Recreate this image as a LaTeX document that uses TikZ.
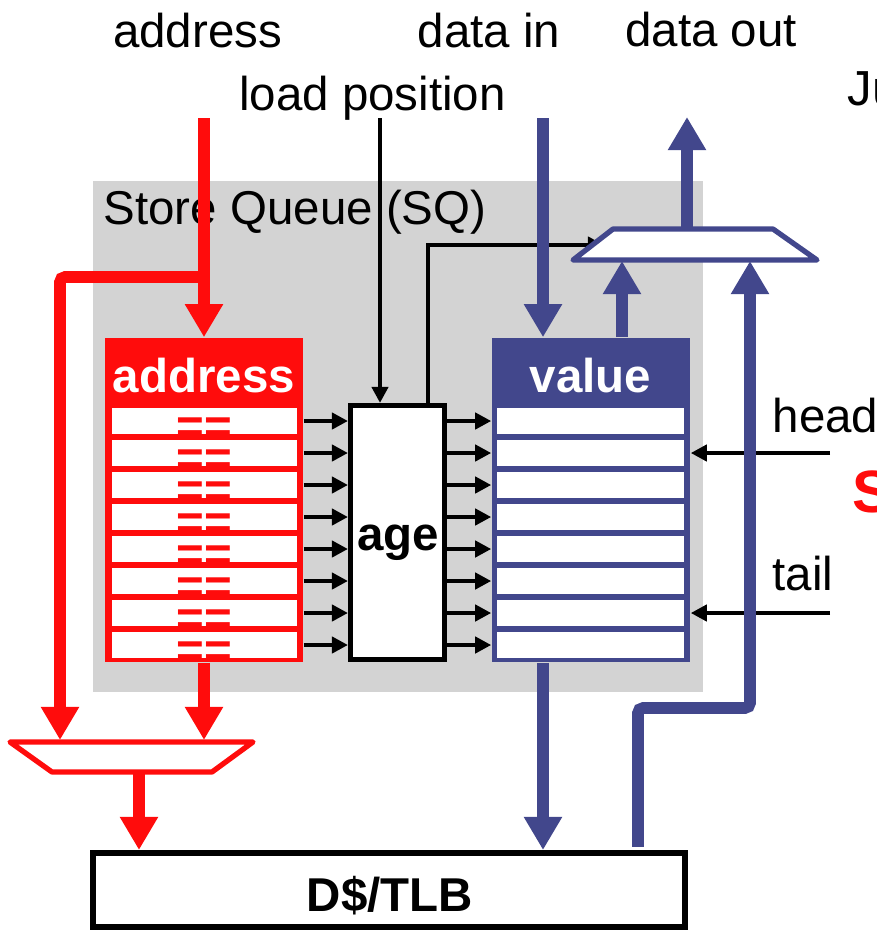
\documentclass[tikz,border=0pt]{standalone}
\usepackage{fontspec}
\setmainfont{Liberation Sans}
\usetikzlibrary{arrows.meta}

\definecolor{sqred}{RGB}{255,12,12}
\definecolor{sqblue}{RGB}{66,71,140}
\definecolor{sqgray}{RGB}{211,211,211}

\tikzset{
  lbl/.style={font=\fontsize{13.5}{16}\selectfont, inner sep=0pt},
  hdr/.style={font=\fontsize{13.5}{16}\selectfont\bfseries, text=white, inner sep=0pt},
  eqsign/.style={font=\fontsize{13.5}{16}\selectfont\bfseries, text=sqred, inner sep=0pt},
  slot/.style={fill=white, minimum height=0.26cm, inner sep=0pt},
  column/.style={minimum width=1.98cm, minimum height=3.24cm, inner sep=0pt},
  bus/.style={line width=3.3pt, -{Triangle[length=0.33cm,width=0.36cm]}},
  wire/.style={line width=1.35pt, -{Triangle[length=0.16cm,width=0.16cm]}},
  muxbox/.style={fill=white, line width=1.5pt, line join=round}
}

\begin{document}
\begin{tikzpicture}[x=0.01cm,y=-0.01cm]
  \useasboundingbox (0,0) rectangle (877,933);
  \fill[sqgray] (93,181) rectangle (703,692);

  \begin{scope}[every node/.style={lbl}]
    \node[anchor=base] (addrlbl) at (197.5,47) {address};
    \node[anchor=base] (dinlbl) at (489,47) {data in};
    \node[anchor=base] (doutlbl) at (711,46) {data out};
    \node[anchor=base] (loadlbl) at (372.5,110) {load position};
    \node[anchor=base west] (sqname) at (103,224) {Store Queue (SQ)};
    \node[anchor=base west] (headlbl) at (772,432) {head};
    \node[anchor=base west] (taillbl) at (772,590) {tail};
    \node[anchor=base west, font=\fontsize{14}{17}\selectfont] (cutj) at (847,105) {Ju};
    \node[anchor=base west, font=\fontsize{17}{20}\selectfont\bfseries, text=sqred] (cuts) at (852,512) {S};
  \end{scope}

  \coordinate (addrin) at (204,118);
  \coordinate (loadin) at (380,118);
  \coordinate (datain) at (543,118);
  \coordinate (dataout) at (687,117);
  \coordinate (addrsplit) at (204,277);
  \coordinate (ageout) at (428,245);
  \coordinate (headin) at (830,453);
  \coordinate (tailin) at (830,613);
  \coordinate (fwd) at (638,708);
  \coordinate (rmuxl) at (60,740);
  \coordinate (rmuxr) at (204,740);
  \coordinate (rmuxo) at (139,772);
  \coordinate (bmuxl) at (622,261);
  \coordinate (bmuxr) at (750,261);
  \coordinate (bmuxo) at (687,229);
  \coordinate (bmuxs) at (604,245);

  \node[column, fill=sqred] (addrcol) at (204,500) {};
  \node[column, fill=sqblue] (valcol) at (591,500) {};
  \node[hdr, anchor=base] (addrhd) at (204,392) {address};
  \node[hdr, anchor=base] (valhd) at (590.5,392) {value};
  \node[draw, fill=white, line width=1.42pt, minimum width=0.94cm, minimum height=2.54cm, inner sep=0pt] (age) at (397.5,532.5) {};
  \node[hdr, text=black, anchor=base] (agetxt) at (398,550) {age};

  \foreach \i in {1,...,8} {
    \pgfmathsetmacro\ry{421+32*(\i-1)}
    \node[slot, minimum width=1.85cm] (a\i) at (204.5,\ry) {};
    \node[eqsign, anchor=base] (eq\i) at (204,\ry+21) {==};
    \node[slot, minimum width=1.87cm] (v\i) at (590.5,\ry) {};
    \draw[wire] (addrcol.east |- a\i) -- (age.west |- a\i);
    \draw[wire] (age.east |- v\i) -- (valcol.west |- v\i);
  }

  \draw[wire] (loadin) -- (age.north -| loadin);
  \draw[wire] (age.north -| ageout) |- (bmuxs);
  \draw[wire] (headin) -- (valcol.east |- v2);
  \draw[wire] (tailin) -- (valcol.east |- v7);

  \draw[bus, sqred] (addrin) -- (addrcol.north -| addrin);
  \draw[bus, sqred, rounded corners=0.05cm] (addrsplit) -| (rmuxl);
  \draw[bus, sqred] (addrcol.south -| rmuxr) -- (rmuxr);

  \draw[bus, sqblue] (datain) -- (valcol.north -| datain);
  \draw[bus, sqblue] (valcol.north -| bmuxl) -- (bmuxl);
  \draw[bus, sqblue] (bmuxo) -- (dataout);

  \node[draw, fill=white, line width=1.7pt, minimum width=5.92cm, minimum height=0.74cm, inner sep=0pt] (dtlb) at (389,890) {};
  \draw[bus, sqred] (rmuxo) -- (rmuxo |- dtlb.north);
  \draw[bus, sqblue] (valcol.south -| datain) -- (datain |- dtlb.north);
  \draw[line width=3.3pt, sqblue, rounded corners=0.05cm, -{Triangle[length=0.33cm,width=0.36cm]}] ([yshift=0.03cm]dtlb.north -| fwd) -- (fwd) -| (bmuxr);
  \node[hdr, text=black, anchor=base] (dtlbtxt) at (390,911) {D\$/TLB};

  \draw[muxbox, draw=sqred] (10,742) -- (253,742) -- (212,772) -- (52,772) -- cycle;
  \draw[muxbox, draw=sqblue] (613,229) -- (773,229) -- (817,260) -- (573,260) -- cycle;
\end{tikzpicture}
\end{document}
